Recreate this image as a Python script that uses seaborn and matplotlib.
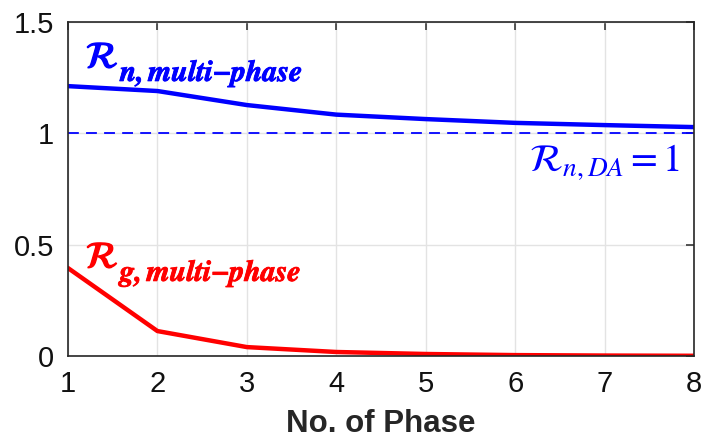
import numpy as np
import pandas as pd
import matplotlib
matplotlib.use("Agg")
import matplotlib.pyplot as plt
import matplotlib.patheffects as pe
import seaborn as sns

phases = [1, 2, 3, 4, 5, 6, 7, 8]
r_n_multi = [1.212, 1.190, 1.127, 1.084, 1.064, 1.047, 1.037, 1.028]
r_g_multi = [0.395, 0.112, 0.040, 0.018, 0.009, 0.004, 0.002, 0.001]
r_n_da = 1.0
x_ticks = [1, 2, 3, 4, 5, 6, 7, 8]
y_ticks = [0, 0.5, 1, 1.5]

sns.set_theme(style="whitegrid")
plt.rcParams["font.family"] = ["Liberation Sans", "DejaVu Sans"]
plt.rcParams["mathtext.fontset"] = "stix"

df = pd.DataFrame({"phase": phases, "rn": r_n_multi, "rg": r_g_multi})

fig = plt.figure(figsize=(7.04, 4.38), dpi=100)
ax = fig.add_axes([68 / 704, 1 - 356 / 438, (694 - 68) / 704, (356 - 22) / 438])

sns.lineplot(data=df, x="phase", y="rn", ax=ax, color="#0000ff", linewidth=3.2)
sns.lineplot(data=df, x="phase", y="rg", ax=ax, color="#ff0000", linewidth=3.2)
ax.axhline(r_n_da, color="#0000ff", linestyle=(0, (6, 4)), linewidth=1.3)

ax.set_xlim(1, 8)
ax.set_ylim(0, 1.5)
ax.set_xticks(x_ticks)
ax.set_yticks(y_ticks)
ax.set_yticklabels(["0", "0.5", "1", "1.5"])
ax.set_xlabel("No. of Phase", fontsize=22.5, fontweight="bold", labelpad=8)
ax.set_ylabel("")

ax.grid(True, color="#e3e3e3", linewidth=1)
for s in ax.spines.values():
    s.set_color("#262626")
    s.set_linewidth(1.2)
ax.tick_params(axis="both", direction="in", length=6, width=1.1, color="#262626",
               labelsize=21, labelcolor="#111111", top=True, right=True, pad=10)


def curve_label(x, y, sub, color):
    """Bold calligraphic R with a bold-italic subscript."""
    stroke = [pe.withStroke(linewidth=1.0, foreground=color)]
    head = ax.text(x, y, r"$\mathcal{R}$", color=color, fontsize=27,
                   ha="left", va="baseline", path_effects=stroke)
    ax.annotate(r"$\mathbfit{%s}$" % sub, xy=(1, 0), xycoords=head,
                xytext=(1, -3.5), textcoords="offset points",
                color=color, fontsize=21.5, ha="left", va="baseline",
                path_effects=[pe.withStroke(linewidth=0.6, foreground=color)])


curve_label(1.2, 1.293, "n,multi{-}phase", "#0000ff")
curve_label(1.2, 0.395, "g,multi{-}phase", "#ff0000")
ax.text(7.85, 0.87, r"$\mathcal{R}_{n,DA}=1$",
        color="#0000ff", fontsize=28, ha="right", va="center")

fig.savefig("out.png", dpi=100)
